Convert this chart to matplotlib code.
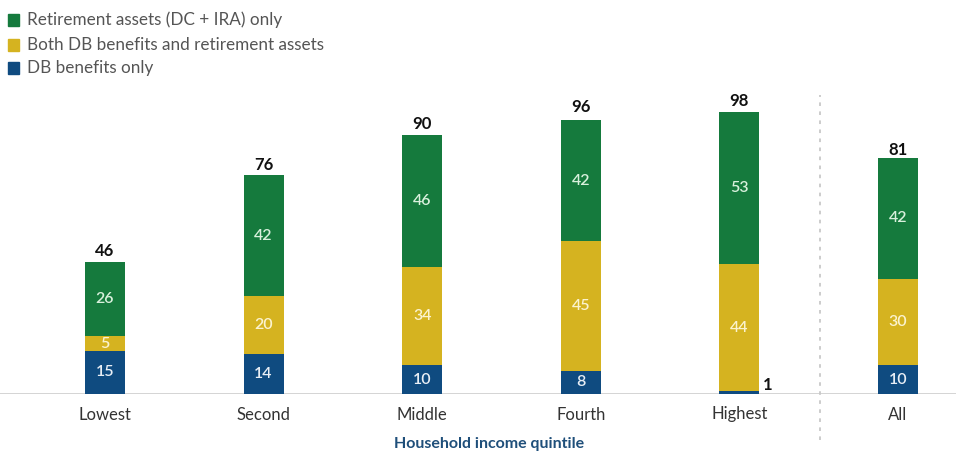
import matplotlib
matplotlib.use("Agg")
import matplotlib.pyplot as plt
from matplotlib.patches import Rectangle
from matplotlib.lines import Line2D

plt.rcParams['font.family'] = ['Lato', 'DejaVu Sans']

categories = ["Lowest", "Second", "Middle", "Fourth", "Highest", "All"]
db_only = [15, 14, 10, 8, 1, 10]
both = [5, 20, 34, 45, 44, 30]
ret_only = [26, 42, 46, 42, 53, 42]
totals = [46, 76, 90, 96, 98, 81]
series_names = ["Retirement assets (DC + IRA) only",
                "Both DB benefits and retirement assets",
                "DB benefits only"]

c_green = "#157a3d"
c_yellow = "#d5b320"
c_blue = "#0f4b80"

fig = plt.figure(figsize=(9.56, 4.55), dpi=100)
ax = fig.add_axes([0, 61/455, 1, (394-100)/455])
x = list(range(len(categories)))
w = 0.252
ax.bar(x, db_only, w, color=c_blue)
ax.bar(x, both, w, bottom=db_only, color=c_yellow)
b2 = [a + b for a, b in zip(db_only, both)]
ax.bar(x, ret_only, w, bottom=b2, color=c_green)

ax.set_xlim(-0.662, 5.366)
ax.set_ylim(0, (394-100)/2.88)
for s in ax.spines.values():
    s.set_visible(False)
ax.set_yticks([])
ax.set_xticks(x)
ax.set_xticklabels(categories, fontsize=12, color="#333333")
ax.tick_params(axis='x', length=0, pad=9)
ax.axhline(0, color="#d0d0d0", lw=2, zorder=0)

for i in x:
    if db_only[i] >= 3:
        ax.text(i, db_only[i]/2, str(db_only[i]), ha='center', va='center',
                color="#e8eef5", fontsize=11.5, fontweight='semibold')
    else:
        ax.text(i + w/2 + 0.02, 0.3, str(db_only[i]), ha='left', va='bottom',
                color="#111111", fontsize=12, fontweight='bold')
    ax.text(i, db_only[i] + both[i]/2, str(both[i]), ha='center', va='center',
            color="#fbf3cf", fontsize=11.5, fontweight='semibold')
    ax.text(i, b2[i] + ret_only[i]/2, str(ret_only[i]), ha='center', va='center',
            color="#d8f0dc", fontsize=11.5, fontweight='semibold')
    ax.text(i, totals[i] + 0.8, str(totals[i]), ha='center', va='bottom',
            color="#111111", fontsize=12, fontweight='bold')

fig.add_artist(Line2D([820/956, 820/956], [1-440/455, 1-95/455],
                      color="#c8c8c8", lw=1.3, ls=(0, (2, 3))))

fig.text(489/956, 1-444/455, "Household income quintile", ha='center',
         va='center', fontsize=11.5, fontweight='bold', color="#1f4f7a")

cols = [c_green, c_yellow, c_blue]
ys = [20, 45, 68]
for name, c, yy in zip(series_names, cols, ys):
    fig.add_artist(Rectangle((8/956, 1-(yy+5.5)/455), 11/956, 11/455,
                             color=c, transform=fig.transFigure))
    fig.text(27/956, 1-yy/455, name, ha='left', va='center', fontsize=12.3,
             color="#555555")

fig.savefig("out.png", dpi=100)
